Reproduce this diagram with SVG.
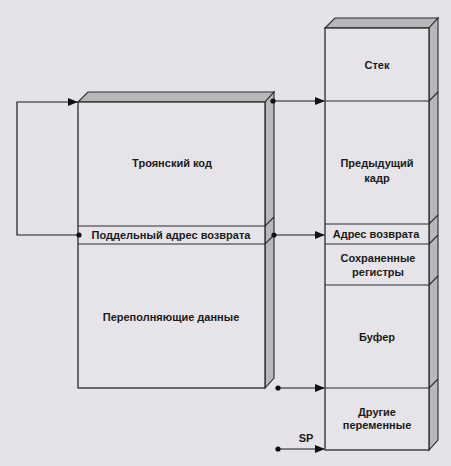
<svg xmlns="http://www.w3.org/2000/svg" width="451" height="466" viewBox="0 0 451 466">
<style>
.bg{fill:#e5e3e7}
.face{fill:#e6e4e8;stroke:#2a2a2a;stroke-width:1.3}
.side{fill:#b9b7ba;stroke:#2a2a2a;stroke-width:1.1}
.sep{stroke:#2a2a2a;stroke-width:1.1;fill:none}
.conn{stroke:#1a1a1a;stroke-width:1.2;fill:none}
.dot{fill:#111}
text{font-family:"Liberation Sans",Arial,sans-serif;font-size:11px;font-weight:bold;fill:#1a1a1a;text-anchor:middle}
</style>
<defs>
<marker id="arr" markerWidth="10" markerHeight="8" refX="9" refY="4" orient="auto" markerUnits="userSpaceOnUse">
<path d="M0,0 L10,4 L0,8 Z" fill="#111"/>
</marker>
</defs>
<rect class="bg" x="0" y="0" width="451" height="466"/>

<g id="left-block">
<polygon class="side" points="78,102 88,92 274,92 265,102"/>
<polygon class="side" points="265,102 274,92 274,378 265,388"/>
<rect class="face" x="78" y="102" width="187" height="286"/>
<line class="sep" x1="78" y1="226" x2="265" y2="226"/>
<line class="sep" x1="78" y1="244" x2="265" y2="244"/>
<line class="sep" x1="265" y1="226" x2="274" y2="217"/>
<line class="sep" x1="265" y1="244" x2="274" y2="235"/>
<text x="172" y="167">Троянский код</text>
<text x="171" y="239">Поддельный адрес возврата</text>
<text x="171" y="321">Переполняющие данные</text>
</g>

<g id="right-block">
<polygon class="side" points="325,28 335,18 438,18 429,28"/>
<polygon class="side" points="429,28 438,18 438,440 429,450"/>
<rect class="face" x="325" y="28" width="104" height="422"/>
<line class="sep" x1="325" y1="101" x2="429" y2="101"/>
<line class="sep" x1="325" y1="224" x2="429" y2="224"/>
<line class="sep" x1="325" y1="244" x2="429" y2="244"/>
<line class="sep" x1="325" y1="285" x2="429" y2="285"/>
<line class="sep" x1="325" y1="388" x2="429" y2="388"/>
<line class="sep" x1="429" y1="101" x2="438" y2="92"/>
<line class="sep" x1="429" y1="224" x2="438" y2="215"/>
<line class="sep" x1="429" y1="244" x2="438" y2="235"/>
<line class="sep" x1="429" y1="285" x2="438" y2="276"/>
<line class="sep" x1="429" y1="388" x2="438" y2="379"/>
<text x="377" y="69">Стек</text>
<text x="377" y="167">Предыдущий</text>
<text x="377" y="182">кадр</text>
<text x="376" y="238">Адрес возврата</text>
<text x="378" y="262">Сохраненные</text>
<text x="378" y="276">регистры</text>
<text x="377" y="341">Буфер</text>
<text x="377" y="416">Другие</text>
<text x="377" y="429">переменные</text>
</g>

<g id="connectors">
<polyline class="conn" points="79,235 17,235 17,102 77,102" marker-end="url(#arr)"/>
<circle class="dot" cx="79" cy="235" r="2.6"/>
<line class="conn" x1="273" y1="101" x2="324" y2="101" marker-end="url(#arr)"/>
<circle class="dot" cx="273" cy="101" r="2.6"/>
<line class="conn" x1="274" y1="235" x2="324" y2="235" marker-end="url(#arr)"/>
<circle class="dot" cx="274" cy="235" r="2.6"/>
<line class="conn" x1="278" y1="388" x2="324" y2="388" marker-end="url(#arr)"/>
<circle class="dot" cx="278" cy="388" r="2.6"/>
<line class="conn" x1="278" y1="449" x2="324" y2="449" marker-end="url(#arr)"/>
<circle class="dot" cx="278" cy="449" r="2.6"/>
<text x="306" y="442">SP</text>
</g>
</svg>
